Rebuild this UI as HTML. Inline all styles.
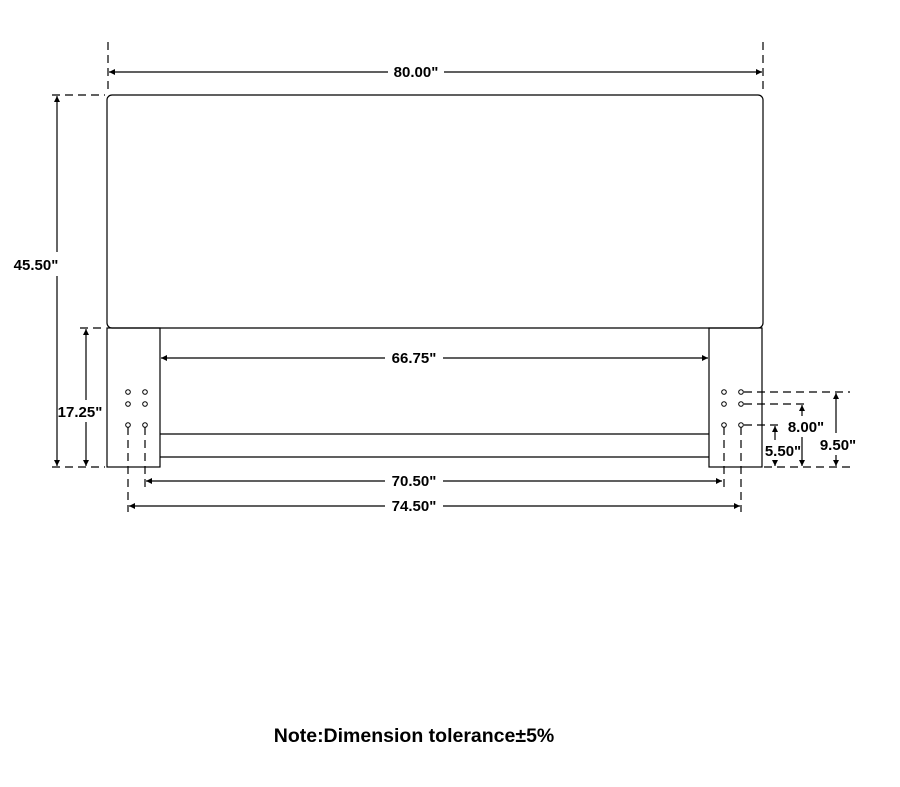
<!DOCTYPE html>
<html><head><style>
html,body{margin:0;padding:0;background:#fff}
svg text{font-family:"Liberation Sans",Arial,sans-serif;font-weight:bold;font-size:15px;fill:#000}
</style></head><body>
<svg width="900" height="782" viewBox="0 0 900 782" xmlns="http://www.w3.org/2000/svg">
<defs>
<marker id="a" viewBox="0 0 10 10" refX="10" refY="5" markerWidth="10" markerHeight="6" orient="auto-start-reverse" markerUnits="userSpaceOnUse"><path d="M0,0L10,5L0,10z" fill="#000"/></marker>
</defs>
<g stroke="#000" stroke-width="1.2" fill="none">
<g stroke-dasharray="8,5">
<line x1="108" y1="42" x2="108" y2="94"/>
<line x1="763" y1="42" x2="763" y2="94"/>
<line x1="52" y1="95" x2="105" y2="95"/>
<line x1="80" y1="328" x2="105" y2="328"/>
<line x1="52" y1="467" x2="105" y2="467"/>
<line x1="128" y1="427" x2="128" y2="512"/>
<line x1="145" y1="427" x2="145" y2="490"/>
<line x1="724" y1="427" x2="724" y2="490"/>
<line x1="741" y1="427" x2="741" y2="512"/>
<line x1="744" y1="392" x2="850" y2="392"/>
<line x1="744" y1="404" x2="808" y2="404"/>
<line x1="744" y1="425" x2="782" y2="425"/>
<line x1="764" y1="467" x2="850" y2="467"/>
</g>
<rect x="107" y="95" width="656" height="233" rx="5"/>
<rect x="107" y="328" width="53" height="139"/>
<rect x="709" y="328" width="53" height="139"/>
<line x1="160" y1="434" x2="709" y2="434"/>
<line x1="160" y1="457" x2="709" y2="457"/>
<g stroke-width="1">
<circle cx="128" cy="392" r="2.3"/><circle cx="145" cy="392" r="2.3"/>
<circle cx="128" cy="404" r="2.3"/><circle cx="145" cy="404" r="2.3"/>
<circle cx="128" cy="425" r="2.3"/><circle cx="145" cy="425" r="2.3"/>
<circle cx="724" cy="392" r="2.3"/><circle cx="741" cy="392" r="2.3"/>
<circle cx="724" cy="404" r="2.3"/><circle cx="741" cy="404" r="2.3"/>
<circle cx="724" cy="425" r="2.3"/><circle cx="741" cy="425" r="2.3"/>
</g>
<line x1="109" y1="72" x2="388" y2="72" marker-start="url(#a)"/>
<line x1="444" y1="72" x2="762" y2="72" marker-end="url(#a)"/>
<line x1="57" y1="96" x2="57" y2="252" marker-start="url(#a)"/>
<line x1="57" y1="276" x2="57" y2="466" marker-end="url(#a)"/>
<line x1="86" y1="329" x2="86" y2="400" marker-start="url(#a)"/>
<line x1="86" y1="422" x2="86" y2="466" marker-end="url(#a)"/>
<line x1="161" y1="358" x2="385" y2="358" marker-start="url(#a)"/>
<line x1="443" y1="358" x2="708" y2="358" marker-end="url(#a)"/>
<line x1="146" y1="481" x2="385" y2="481" marker-start="url(#a)"/>
<line x1="443" y1="481" x2="722" y2="481" marker-end="url(#a)"/>
<line x1="129" y1="506" x2="385" y2="506" marker-start="url(#a)"/>
<line x1="443" y1="506" x2="740" y2="506" marker-end="url(#a)"/>
<line x1="836" y1="393" x2="836" y2="433" marker-start="url(#a)"/>
<line x1="836" y1="455" x2="836" y2="466" marker-end="url(#a)"/>
<line x1="802" y1="405" x2="802" y2="416" marker-start="url(#a)"/>
<line x1="802" y1="437" x2="802" y2="466" marker-end="url(#a)"/>
<line x1="775" y1="426" x2="775" y2="440" marker-start="url(#a)"/>
<line x1="775" y1="460" x2="775" y2="466" marker-end="url(#a)"/>
</g>
<text x="416" y="77" text-anchor="middle">80.00"</text>
<text x="36" y="270" text-anchor="middle">45.50"</text>
<text x="80" y="417" text-anchor="middle">17.25"</text>
<text x="414" y="363" text-anchor="middle">66.75"</text>
<text x="414" y="486" text-anchor="middle">70.50"</text>
<text x="414" y="511" text-anchor="middle">74.50"</text>
<text x="838" y="450" text-anchor="middle">9.50"</text>
<text x="806" y="432" text-anchor="middle">8.00"</text>
<text x="783" y="456" text-anchor="middle">5.50"</text>
<text x="414" y="742" text-anchor="middle" style="font-size:19.5px">Note:Dimension tolerance±5%</text>
</svg>
</body></html>
